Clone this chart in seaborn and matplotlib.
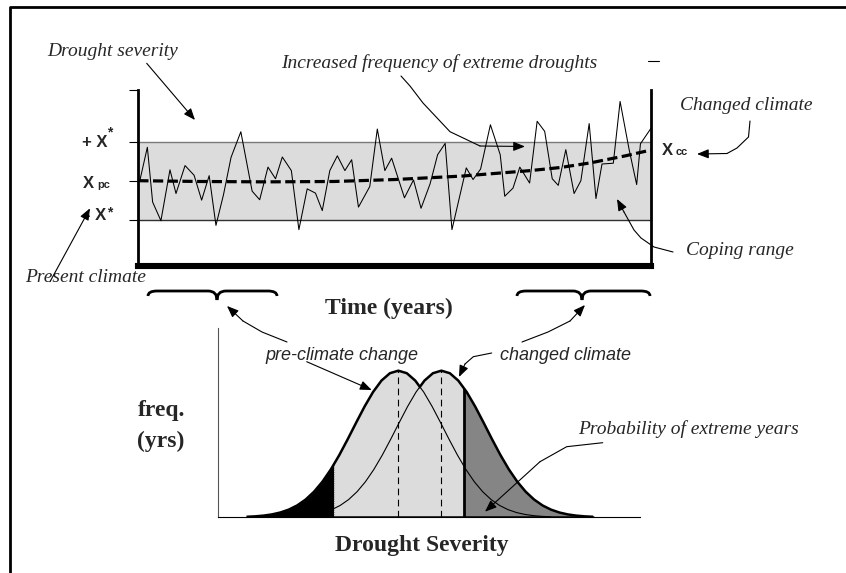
import numpy as np
import matplotlib
matplotlib.use("Agg")
import matplotlib.pyplot as plt
from matplotlib.path import Path
from matplotlib.patches import PathPatch, Rectangle
import seaborn as sns

# ── Data ──────────────────────────────────────────────────────────────────
# yearly drought severity, in units of the coping threshold X*
years = [0.2, 1.2, 1.9, 3.0, 4.2, 5.0, 6.2, 7.4, 8.4, 9.4, 10.3, 11.3, 12.3,
         13.6, 15.1, 16.1, 17.2, 18.2, 19.1, 20.3, 21.3, 22.4, 23.5, 24.4,
         25.4, 26.4, 27.4, 28.3, 29.2, 30.7, 31.7, 32.7, 33.6, 35.3, 36.5,
         37.5, 38.7, 39.7, 40.7, 41.6, 43.5, 44.4, 45.4, 46.7, 48.0, 48.6,
         49.7, 50.6, 51.9, 52.9, 53.9, 54.9, 55.7, 56.7, 57.8, 58.7, 59.8,
         60.7, 61.5, 63.0, 63.9, 65.1, 66.1, 66.6, 68.0]
severity = [0.0, 0.86, -0.55, -1.03, 0.28, -0.33, 0.39, 0.14, -0.50, 0.13,
            -1.15, -0.36, 0.60, 1.26, -0.27, -0.49, 0.35, 0.05, 0.61, 0.26,
            -1.26, -0.21, -0.32, -0.77, 0.26, 0.64, 0.26, 0.54, -0.68, -0.15,
            1.33, 0.26, 0.58, -0.44, 0.02, -0.71, -0.08, 0.67, 0.96, -1.26,
            0.33, 0.03, 0.30, 1.44, 0.67, -0.40, -0.19, 0.35, -0.06, 1.53,
            1.27, 0.05, -0.12, 0.80, -0.33, 0.0, 1.47, -0.46, 0.43, 0.45,
            2.04, 0.80, -0.10, 0.95, 1.35]

# mean climate (dashed trend)
trend_years = [0, 8, 17, 26, 34, 43, 52, 56, 60, 64.6, 68]
trend_values = [0.0, -0.02, -0.03, -0.02, 0.03, 0.12, 0.26, 0.34, 0.46, 0.64, 0.79]

X_STAR = 1.0      # coping range is -X* .. +X*

# frequency curves: one bell profile, shifted for the two climates
bell_offsets = [-3.6, -3.4, -3.2, -3.0, -2.8, -2.6, -2.4, -2.2, -2.0, -1.8,
                -1.6, -1.4, -1.2, -1.0, -0.8, -0.6, -0.4, -0.2, 0.0, 0.2, 0.4,
                0.6, 0.8, 1.0, 1.2, 1.4, 1.6, 1.8, 2.0, 2.2, 2.4, 2.6, 2.8,
                3.0, 3.2, 3.4, 3.6]
bell_heights = [0.0035, 0.0064, 0.0114, 0.0196, 0.0326, 0.0522, 0.0808,
                0.1208, 0.1743, 0.2429, 0.3269, 0.4249, 0.5332, 0.6461,
                0.7562, 0.8545, 0.9325, 0.9827, 1.0, 0.9827, 0.9325, 0.8545,
                0.7562, 0.6461, 0.5332, 0.4249, 0.3269, 0.2429, 0.1743,
                0.1208, 0.0808, 0.0522, 0.0326, 0.0196, 0.0114, 0.0064, 0.0035]
pre_mean = 4.27
cc_mean = 5.29
low_threshold = 2.74
high_threshold = 5.83

# ── Style ─────────────────────────────────────────────────────────────────
sns.set_theme(style="white")
plt.rcParams["font.family"] = ["Liberation Serif", "DejaVu Sans"]

W, H = 846, 573
fig = plt.figure(figsize=(W / 100, H / 100), dpi=100)


def frac(x0, y0, x1, y1):
    # pixel box (origin top-left) -> figure fraction rect
    return [x0 / W, 1 - y1 / H, (x1 - x0) / W, (y1 - y0) / H]


def clip_x(artist, ax, x0, x1):
    artist.set_clip_path(Rectangle((x0, -1), x1 - x0, 5, transform=ax.transData))


# ── Top panel: time series ────────────────────────────────────────────────
ax_t = fig.add_axes(frac(138.3, 90, 651, 266))
ax_t.axhspan(-X_STAR, X_STAR, color="#dcdcdc", lw=0, zorder=0)
ax_t.axhline(X_STAR, color="#7a7a7a", lw=1)
ax_t.axhline(-X_STAR, color="#303030", lw=1)
sns.lineplot(x=years, y=severity, ax=ax_t, color="black", linewidth=0.75,
             estimator=None, sort=False)
ax_t.plot(trend_years, trend_values, color="black", lw=2.3, ls=(0, (3.2, 1.4)))
ax_t.set_xlim(0, 68)
ax_t.set_ylim(-2.196, 2.335)
ax_t.set_xticks([])
ax_t.set_yticks([-X_STAR, 0, X_STAR, 2.335])
ax_t.set_yticklabels([])
ax_t.tick_params(axis="y", left=True, direction="out", length=6.5, width=0.8,
                 color="black")
ax_t.spines["top"].set_visible(False)
for side, lw in [("left", 2.0), ("right", 2.0), ("bottom", 4.4)]:
    ax_t.spines[side].set_color("black")
    ax_t.spines[side].set_linewidth(lw)
ax_t.set_xlabel("")
ax_t.set_ylabel("")

# ── Bottom panel: frequency distributions ────────────────────────────────
offs = np.array(bell_offsets)
bell = np.array(bell_heights)
pre_x = pre_mean + offs
cc_x = cc_mean + offs
cross = (pre_mean + cc_mean) / 2

ax_b = fig.add_axes(frac(218.3, 328, 640, 517.3))
ax_b.set_xlim(0, 10)
ax_b.set_ylim(0, 1.291)

f = ax_b.fill_between(pre_x, 0, bell, color="black", lw=0)
clip_x(f, ax_b, -1, low_threshold)
pre_fill = ax_b.fill_between(pre_x, 0, bell, color="#dcdcdc", lw=0)
clip_x(pre_fill, ax_b, low_threshold, high_threshold)
f = ax_b.fill_between(cc_x, 0, bell, color="#dcdcdc", lw=0)
clip_x(f, ax_b, low_threshold, high_threshold)
cc_fill = ax_b.fill_between(cc_x, 0, bell, color="#858585", lw=0)
clip_x(cc_fill, ax_b, high_threshold, 11)

# threshold lines, cut at the curves
clip_pre = ax_b.fill_between(pre_x, 0, bell, color="none", lw=0)
clip_cc = ax_b.fill_between(cc_x, 0, bell, color="none", lw=0)
v = ax_b.vlines(low_threshold, 0, 2, color="#9a9a9a", lw=0.8, ls=(0, (1, 1)))
v.set_clip_path(clip_pre.get_paths()[0], ax_b.transData)
v = ax_b.vlines(high_threshold, 0, 2, color="black", lw=2.0)
v.set_clip_path(clip_cc.get_paths()[0], ax_b.transData)

# means
ax_b.vlines([pre_mean, cc_mean], 0, bell.max(), color="black", lw=0.8,
            ls=(0, (6, 4)))

# curves: thick outer envelope, thin inner parts
l = ax_b.plot(pre_x, bell, color="black", lw=1.8, solid_capstyle="butt")[0]
clip_x(l, ax_b, -1, cross)
l = ax_b.plot(pre_x, bell, color="black", lw=0.8)[0]
clip_x(l, ax_b, cross, 11)
l = ax_b.plot(cc_x, bell, color="black", lw=1.8, solid_capstyle="butt")[0]
clip_x(l, ax_b, cross, 11)
l = ax_b.plot(cc_x, bell, color="black", lw=0.8)[0]
clip_x(l, ax_b, low_threshold, cross)
ax_b.plot([pre_x[0], cc_x[-1]], [0, 0], color="black", lw=1.8)

ax_b.set_xticks([])
ax_b.set_yticks([])
ax_b.spines["top"].set_visible(False)
ax_b.spines["right"].set_visible(False)
ax_b.spines["left"].set_color("#555555")
ax_b.spines["left"].set_linewidth(0.8)
ax_b.spines["bottom"].set_color("black")
ax_b.spines["bottom"].set_linewidth(0.8)

# ── Overlay: labels, arrows, braces, frame ────────────────────────────────
ax_o = fig.add_axes([0, 0, 1, 1])
ax_o.set_xlim(0, W)
ax_o.set_ylim(H, 0)
ax_o.axis("off")

ax_o.plot([10, 10, W], [H, 6.5, 6.5], color="black", lw=2.0)
ax_o.plot([648, 659], [61, 61], color="black", lw=0.8)

serif_it = dict(family=["Liberation Serif", "DejaVu Serif"], style="italic",
                size=14, va="baseline", ha="center")
sans_it = dict(family=["Liberation Sans", "DejaVu Sans"], style="italic",
               size=13, va="baseline", ha="center")
serif_bd = dict(family=["Liberation Serif", "DejaVu Serif"], weight="bold",
                size=17, va="baseline", ha="center")
sans_bd = dict(family=["Liberation Sans", "DejaVu Sans"], weight="bold",
               va="baseline")

ax_o.text(112.5, 56, "Drought severity", **serif_it)
ax_o.text(439, 68.5, "Increased frequency of extreme droughts", **serif_it)
ax_o.text(746, 110, "Changed climate", **serif_it)
ax_o.text(739.5, 255, "Coping range", **serif_it)
ax_o.text(86, 282, "Present climate", **serif_it)
ax_o.text(688, 433.5, "Probability of extreme years", **serif_it)
ax_o.text(341.5, 360, "pre-climate change", **sans_it)
ax_o.text(566, 360, "changed climate", **sans_it)
ax_o.text(389, 314, "Time (years)", **serif_bd)
ax_o.text(422, 551, "Drought Severity", **serif_bd)
ax_o.text(162, 416, "freq.", **serif_bd)
ax_o.text(161, 447, "(yrs)", **serif_bd)

# threshold / mean labels on the left of the time axis
ax_o.text(107, 147, "+ X", ha="right", size=12, **sans_bd)
ax_o.text(107, 136, "*", ha="left", size=10, **sans_bd)
ax_o.text(83, 188, "X", ha="left", size=12, **sans_bd)
ax_o.text(97.5, 188, "pc", ha="left", size=8, **sans_bd)
ax_o.text(106, 220, "- X", ha="right", size=12, **sans_bd)
ax_o.text(107, 216, "*", ha="left", size=10, **sans_bd)
ax_o.text(661.5, 155, "X", ha="left", size=12, **sans_bd)
ax_o.text(676, 155, "cc", ha="left", size=8, **sans_bd)

ARROW = dict(arrowstyle="-|>,head_length=0.5,head_width=0.2", color="black",
             lw=0.8, shrinkA=0, shrinkB=0, mutation_scale=14)


def arrow(points):
    xs, ys = zip(*points)
    if len(points) > 2:
        ax_o.plot(xs[:-1], ys[:-1], color="black", lw=0.8)
    ax_o.annotate("", xy=points[-1], xytext=points[-2], arrowprops=ARROW)


arrow([(146.7, 63.3), (195, 120)])
arrow([(50, 281.7), (90, 208.3)])
arrow([(401, 76), (410, 86), (423, 103), (450, 131.7), (480, 146), (525, 146.5)])
arrow([(750, 121), (748.5, 137), (737, 148), (727, 153.5), (697, 154)])
arrow([(673, 252), (654, 247), (641, 238), (634, 230), (624, 212), (617, 199)])
arrow([(287, 342), (262, 332), (243, 321), (227, 306)])
arrow([(522, 342), (548, 332), (570, 321), (585, 305)])
arrow([(306.7, 361.7), (371.7, 390)])
arrow([(491.7, 353), (473.3, 356.7), (465, 364), (459, 377)])
arrow([(602.7, 442.7), (566.7, 446.7), (540, 461.7), (485, 511.7)])


def brace(x0, x1, xm, ytop=291, yend=296, ytip=300, r=9):
    verts = [(x0, yend), (x0, ytop), (x0 + r, ytop),
             (xm - r, ytop),
             (xm, ytop), (xm, ytip),
             (xm, ytop), (xm + r, ytop),
             (x1 - r, ytop),
             (x1, ytop), (x1, yend)]
    codes = [Path.MOVETO, Path.CURVE3, Path.CURVE3, Path.LINETO,
             Path.CURVE3, Path.CURVE3, Path.CURVE3, Path.CURVE3,
             Path.LINETO, Path.CURVE3, Path.CURVE3]
    ax_o.add_patch(PathPatch(Path(verts, codes), fill=False, lw=2.0,
                             edgecolor="black", transform=ax_o.transData))


brace(148, 277, 217)
brace(517, 650, 582)

fig.savefig("out.png", dpi=100)
